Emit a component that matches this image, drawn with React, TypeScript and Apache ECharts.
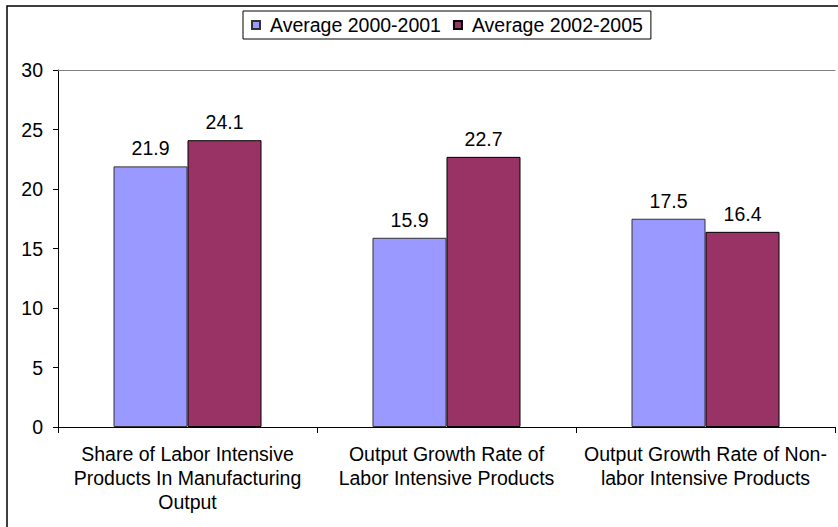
import React, { useEffect, useRef } from "react";
import * as echarts from "echarts";

const categories = [
  "Share of Labor Intensive\nProducts In Manufacturing\nOutput",
  "Output Growth Rate of\nLabor Intensive Products",
  "Output Growth Rate of Non-\nlabor Intensive Products",
];
const seriesNames = ["Average 2000-2001", "Average 2002-2005"];
const avg2000_2001 = [21.9, 15.9, 17.5];
const avg2002_2005 = [24.1, 22.7, 16.4];
const yMin = 0;
const yMax = 30;
const yInterval = 5;

const FONT = "Liberation Sans, Arial, sans-serif";
const FS = 19.5;

export default function App() {
  const ref = useRef<HTMLDivElement>(null);
  useEffect(() => {
    if (!ref.current) return;
    const chart = echarts.init(ref.current, undefined, { renderer: "svg" });
    const labelCfg = {
      show: true,
      position: "top",
      distance: 8,
      fontFamily: FONT,
      fontSize: FS,
      color: "#000",
      formatter: (p: any) => p.value.toFixed(1),
    };
    chart.setOption({
      animation: false,
      backgroundColor: "#ffffff",
      textStyle: { fontFamily: FONT, color: "#000" },
      graphic: [
        {
          type: "rect",
          shape: { x: 7, y: 6, width: 900, height: 600 },
          style: { fill: "none", stroke: "#000", lineWidth: 1.5 },
          silent: true,
          z: 100,
        },
      ],
      legend: {
        left: 243,
        top: 11,
        itemWidth: 8,
        itemHeight: 8,
        itemGap: 12,
        icon: "rect",
        borderColor: "#000",
        borderWidth: 1,
        padding: [4, 8, 4, 8],
        textStyle: { fontFamily: FONT, fontSize: FS, color: "#000", padding: [0, 0, 0, 5] },
        data: seriesNames,
      },
      grid: { left: 58, right: 3, top: 70, bottom: 100, containLabel: false },
      xAxis: [
        {
          type: "category",
          data: categories,
          axisLine: { show: true, lineStyle: { color: "#000", width: 1 } },
          axisTick: { show: true, length: 6, lineStyle: { color: "#000" } },
          axisLabel: {
            fontFamily: FONT,
            fontSize: FS,
            color: "#000",
            lineHeight: 24,
            margin: 15,
            interval: 0,
          },
        },
        {
          type: "category",
          position: "top",
          data: categories,
          axisLine: { show: true, lineStyle: { color: "#808080", width: 1 } },
          axisTick: { show: false },
          axisLabel: { show: false },
        },
      ],
      yAxis: {
        type: "value",
        min: yMin,
        max: yMax,
        interval: yInterval,
        axisLine: { show: true, lineStyle: { color: "#000", width: 1 } },
        axisTick: { show: true, length: 5, lineStyle: { color: "#000" } },
        axisLabel: { fontFamily: FONT, fontSize: FS, color: "#000", margin: 15 },
        splitLine: { show: false },
      },
      series: [
        {
          name: seriesNames[0],
          type: "bar",
          data: avg2000_2001,
          barWidth: 74,
          barGap: "0%",
          itemStyle: { color: "#9999FF", borderColor: "#333", borderWidth: 1 },
          label: labelCfg,
        },
        {
          name: seriesNames[1],
          type: "bar",
          data: avg2002_2005,
          barWidth: 74,
          barGap: "0%",
          itemStyle: { color: "#993366", borderColor: "#000", borderWidth: 1 },
          label: labelCfg,
        },
      ],
    });
    return () => chart.dispose();
  }, []);
  return (
    <div
      ref={ref}
      style={{ position: "fixed", left: 0, top: 0, width: 838, height: 527 }}
    />
  );
}
